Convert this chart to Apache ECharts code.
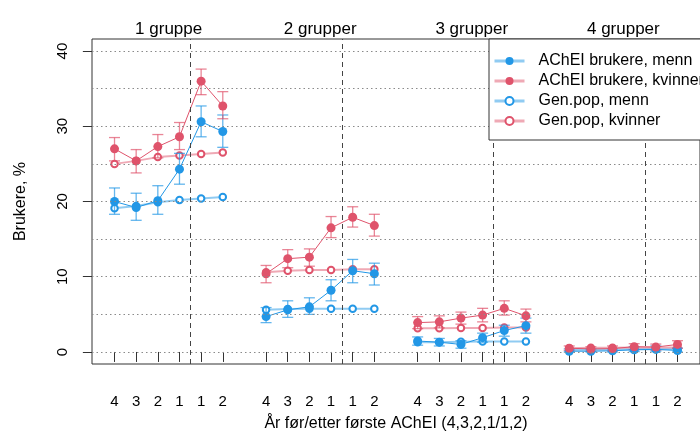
<!DOCTYPE html>
<head>
    <meta charset="utf-8">
    <title>AChEI brukere</title>
</head>
<body style="margin:0">
    <div id="main" style="width:700px;height:437px"></div>
    <script src="https://cdn.jsdelivr.net/npm/echarts@6/dist/echarts.min.js"></script>
    <script type="text/javascript">

    // x-posisjoner: 4 grupper, 6 tidspunkt hver (4,3,2,1 før / 1,2 etter)
    var xPos = [1, 2, 3, 4, 5, 6, 8, 9, 10, 11, 12, 13, 15, 16, 17, 18, 19, 20, 22, 23, 24, 25, 26, 27];
    var xTickLabels = ['4', '3', '2', '1', '1', '2', '4', '3', '2', '1', '1', '2',
                       '4', '3', '2', '1', '1', '2', '4', '3', '2', '1', '1', '2'];
    var groupNames = ['1 gruppe', '2 grupper', '3 grupper', '4 grupper'];
    var groupCenters = [3.5, 10.5, 17.5, 24.5];
    var splitX = [4.5, 11.5, 18.5, 25.5];
    var yTicks = [0, 10, 20, 30, 40];
    var yGrid = [0, 5, 10, 15, 20, 25, 30, 35, 40];

    // AChEI brukere, menn
    var menn = [20.0, 19.2, 20.1, 24.3, 30.6, 29.3,
                4.7, 5.6, 6.0, 8.2, 10.8, 10.4,
                1.45, 1.3, 1.0, 1.9, 2.85, 3.5,
                0.1, 0.1, 0.15, 0.3, 0.35, 0.2];
    var mennLo = [18.3, 17.5, 18.3, 22.3, 28.6, 27.2,
                  3.9, 4.6, 5.0, 6.8, 9.2, 8.9,
                  0.9, 0.8, 0.5, 1.3, 2.1, 2.5,
                  0.0, 0.0, 0.0, 0.05, 0.1, 0.0];
    var mennHi = [21.8, 21.1, 22.1, 26.4, 32.7, 31.5,
                  5.9, 6.8, 7.2, 9.6, 12.3, 11.8,
                  2.0, 1.8, 1.5, 2.5, 3.55, 4.5,
                  0.4, 0.4, 0.4, 0.7, 0.8, 0.5];

    // AChEI brukere, kvinner
    var kvinner = [27.0, 25.4, 27.3, 28.6, 36.0, 32.7,
                   10.4, 12.4, 12.6, 16.5, 17.9, 16.8,
                   3.9, 4.0, 4.5, 4.9, 5.8, 4.8,
                   0.5, 0.4, 0.45, 0.7, 0.65, 1.0];
    var kvinnerLo = [25.4, 23.8, 25.8, 26.9, 34.2, 31.0,
                     9.2, 11.2, 11.4, 15.2, 16.6, 15.4,
                     3.1, 3.2, 3.7, 4.0, 4.9, 4.0,
                     0.2, 0.1, 0.15, 0.3, 0.25, 0.5];
    var kvinnerHi = [28.5, 26.9, 28.9, 30.5, 37.6, 34.6,
                     11.5, 13.6, 13.7, 18.0, 19.3, 18.3,
                     4.7, 4.8, 5.3, 5.8, 6.8, 5.7,
                     0.8, 0.7, 0.8, 1.1, 1.05, 1.5];

    // Gen.pop
    var genMenn = [19.1, 19.4, 19.9, 20.2, 20.4, 20.6,
                   5.6, 5.7, 5.75, 5.75, 5.75, 5.75,
                   1.3, 1.3, 1.35, 1.4, 1.4, 1.4,
                   0.25, 0.3, 0.3, 0.35, 0.35, 0.35];
    var genKvinner = [25.0, 25.4, 25.9, 26.1, 26.3, 26.5,
                      10.6, 10.8, 10.9, 10.9, 11.0, 11.0,
                      3.15, 3.15, 3.2, 3.2, 3.25, 3.25,
                      0.5, 0.55, 0.55, 0.6, 0.6, 0.6];

    var blue = '#2297E6', red = '#DF536B';
    var blueA = 'rgba(34,151,230,0.5)', redA = 'rgba(223,83,107,0.5)';
    var font = 'Liberation Sans';

    // punkter per gruppe, med brudd mellom gruppene
    function toLine(vals) {
        var out = [];
        for (var i = 0; i < vals.length; i++) {
            out.push([xPos[i], vals[i]]);
            if (i % 6 === 5) out.push([xPos[i] + 1, '-']);
        }
        return out;
    }

    function errBars(name, lo, hi, color) {
        return {
            name: name,
            type: 'custom',
            z: 3,
            encode: {x: 0, y: [1, 2]},
            data: xPos.map(function (x, i) { return [x, lo[i], hi[i]]; }),
            renderItem: function (params, api) {
                var a = api.coord([api.value(0), api.value(1)]);
                var b = api.coord([api.value(0), api.value(2)]);
                var w = 5.5;
                var st = {stroke: color, lineWidth: 1.3};
                return {
                    type: 'group',
                    children: [
                        {type: 'line', shape: {x1: a[0], y1: a[1], x2: b[0], y2: b[1]}, style: st},
                        {type: 'line', shape: {x1: a[0] - w, y1: a[1], x2: a[0] + w, y2: a[1]}, style: st},
                        {type: 'line', shape: {x1: b[0] - w, y1: b[1], x2: b[0] + w, y2: b[1]}, style: st}
                    ]
                };
            }
        };
    }

    var myChart = echarts.init(document.getElementById('main'));

    var option = {
        animation: false,
        textStyle: {fontFamily: font},
        grid: {
            left: 92, top: 39, width: 618, height: 329,
            show: true, borderColor: '#333', borderWidth: 1
        },
        legend: {
            orient: 'vertical',
            left: 489, top: 39,
            z: 100,
            padding: [14, 70, 11, 4],
            itemWidth: 30, itemHeight: 10, itemGap: 4,
            backgroundColor: '#fff',
            borderColor: '#333', borderWidth: 1, borderRadius: 0,
            textStyle: {fontFamily: font, fontSize: 16, lineHeight: 15, color: '#000', padding: [0, 0, 0, 9]},
            data: [
                {name: 'AChEI brukere, menn', lineStyle: {color: blueA, width: 3}},
                {name: 'AChEI brukere, kvinner', lineStyle: {color: redA, width: 3}},
                {name: 'Gen.pop, menn', lineStyle: {color: blueA, width: 3}},
                {name: 'Gen.pop, kvinner', lineStyle: {color: redA, width: 3}}
            ]
        },
        xAxis: [{
            type: 'value',
            min: -0.04, max: 28.04,
            name: 'År før/etter første AChEI (4,3,2,1/1,2)',
            nameLocation: 'middle', nameGap: 52,
            nameTextStyle: {fontFamily: font, fontSize: 16, color: '#000'},
            axisLine: {show: false},
            splitLine: {show: false},
            axisTick: {show: true, length: 10, customValues: xPos, lineStyle: {color: '#333'}},
            axisLabel: {
                customValues: xPos, margin: 30,
                fontFamily: font, fontSize: 15, color: '#000',
                formatter: function (v) { return xTickLabels[xPos.indexOf(Math.round(v))]; }
            }
        }, {
            type: 'value',
            position: 'top',
            min: -0.04, max: 28.04,
            axisLine: {show: false},
            splitLine: {show: false},
            axisTick: {show: false},
            axisLabel: {
                customValues: groupCenters, margin: 1,
                fontFamily: font, fontSize: 17, color: '#000',
                formatter: function (v) { return groupNames[groupCenters.indexOf(v)]; }
            }
        }],
        yAxis: {
            type: 'value',
            min: -1.6, max: 41.6,
            name: 'Brukere, %',
            nameLocation: 'middle', nameGap: 63,
            nameTextStyle: {fontFamily: font, fontSize: 16, color: '#000'},
            axisLine: {show: false},
            splitLine: {show: false},
            axisTick: {show: true, length: 10, customValues: yTicks, lineStyle: {color: '#333'}},
            axisLabel: {
                customValues: yTicks, rotate: 90, margin: 22,
                fontFamily: font, fontSize: 15, color: '#000'
            }
        },
        series: [
            {
                name: 'guides',
                type: 'line',
                data: [],
                z: 1,
                markLine: {
                    silent: true, symbol: 'none', label: {show: false},
                    data: yGrid.map(function (v) {
                        return {yAxis: v, lineStyle: {color: '#8a8a8a', type: [1.5, 3], width: 1}};
                    }).concat(splitX.map(function (v) {
                        return {xAxis: v, lineStyle: {color: '#444', type: [5, 4], width: 1}};
                    }))
                }
            },
            {
                name: 'Gen.pop, menn', type: 'line', z: 2,
                data: toLine(genMenn),
                symbol: 'emptyCircle', symbolSize: 6.5,
                itemStyle: {color: blue, borderWidth: 1},
                lineStyle: {color: blueA, width: 2}
            },
            {
                name: 'Gen.pop, kvinner', type: 'line', z: 2,
                data: toLine(genKvinner),
                symbol: 'emptyCircle', symbolSize: 6.5,
                itemStyle: {color: red, borderWidth: 1},
                lineStyle: {color: redA, width: 2}
            },
            errBars('ci menn', mennLo, mennHi, 'rgba(34,151,230,0.7)'),
            errBars('ci kvinner', kvinnerLo, kvinnerHi, 'rgba(223,83,107,0.7)'),
            {
                name: 'AChEI brukere, menn', type: 'line', z: 4,
                data: toLine(menn),
                symbol: 'circle', symbolSize: 9,
                itemStyle: {color: blue},
                lineStyle: {color: blue, width: 1}
            },
            {
                name: 'AChEI brukere, kvinner', type: 'line', z: 4,
                data: toLine(kvinner),
                symbol: 'circle', symbolSize: 9,
                itemStyle: {color: red},
                lineStyle: {color: red, width: 1}
            }
        ]
    };

    myChart.setOption(option);
    </script>
</body>
